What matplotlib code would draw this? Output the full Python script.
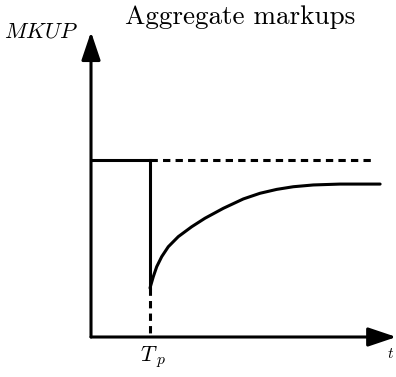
import numpy as np
import matplotlib.pyplot as plt

plt.rcParams["mathtext.fontset"] = "cm"

# schematic values (time in arbitrary units, markup relative to steady state)
t_shock = 2.0
mkup_old = 1.0
t_old = [0.0, t_shock]
t_dash_end = 9.53

# recovery path after the shock
t_path = [2.0, 2.112, 2.227, 2.397, 2.620, 2.959, 3.414, 3.864, 4.485,
          5.163, 5.729, 6.295, 6.858, 7.536, 8.44, 9.80]
mkup_path = [0.277, 0.341, 0.397, 0.454, 0.510, 0.567, 0.623, 0.671, 0.727,
             0.780, 0.812, 0.834, 0.849, 0.859, 0.864, 0.864]

fig = plt.figure(figsize=(3.96, 3.77), dpi=100)
ax = fig.add_axes([0, 0, 1, 1])
ax.set_xlim(-3.085, 10.339)
ax.set_ylim(-0.226, 1.904)
ax.axis("off")

lw = 2.2
# axes with arrows
arrow = dict(arrowstyle="-|>,head_length=0.86,head_width=0.29", color="black",
             lw=lw, mutation_scale=20, shrinkA=0, shrinkB=0)
ax.annotate("", xy=(0, 1.724), xytext=(0, 0), arrowprops=arrow)
ax.annotate("", xy=(10.35, 0), xytext=(0, 0), arrowprops=arrow)

# old markup level and the drop at T_p
ax.plot(t_old, [mkup_old, mkup_old], color="black", lw=lw, solid_capstyle="butt")
ax.plot([t_shock, t_shock], [mkup_old, mkup_path[0]], color="black", lw=lw)
ax.plot([t_shock, t_dash_end], [mkup_old, mkup_old], color="black", lw=lw, dashes=(2.4, 1.7))
ax.plot([t_shock, t_shock], [mkup_path[0], 0], color="black", lw=lw, dashes=(2.4, 1.7))

# new path
ax.plot(t_path, mkup_path, color="black", lw=lw, solid_capstyle="round",
        solid_joinstyle="round")

fig.text(0.316, 0.985, "Aggregate markups", ha="left", va="top",
         fontsize=19.5, family="cmr10")
ax.text(-0.44, 1.69, "$MKUP$", ha="right", va="baseline", fontsize=16)
ax.text(1.65, -0.04, "$T_{\\;p}$", ha="left", va="top", fontsize=16)
ax.text(10.05, -0.05, "$t$", ha="left", va="top", fontsize=11)

fig.savefig("out.png", dpi=100)
